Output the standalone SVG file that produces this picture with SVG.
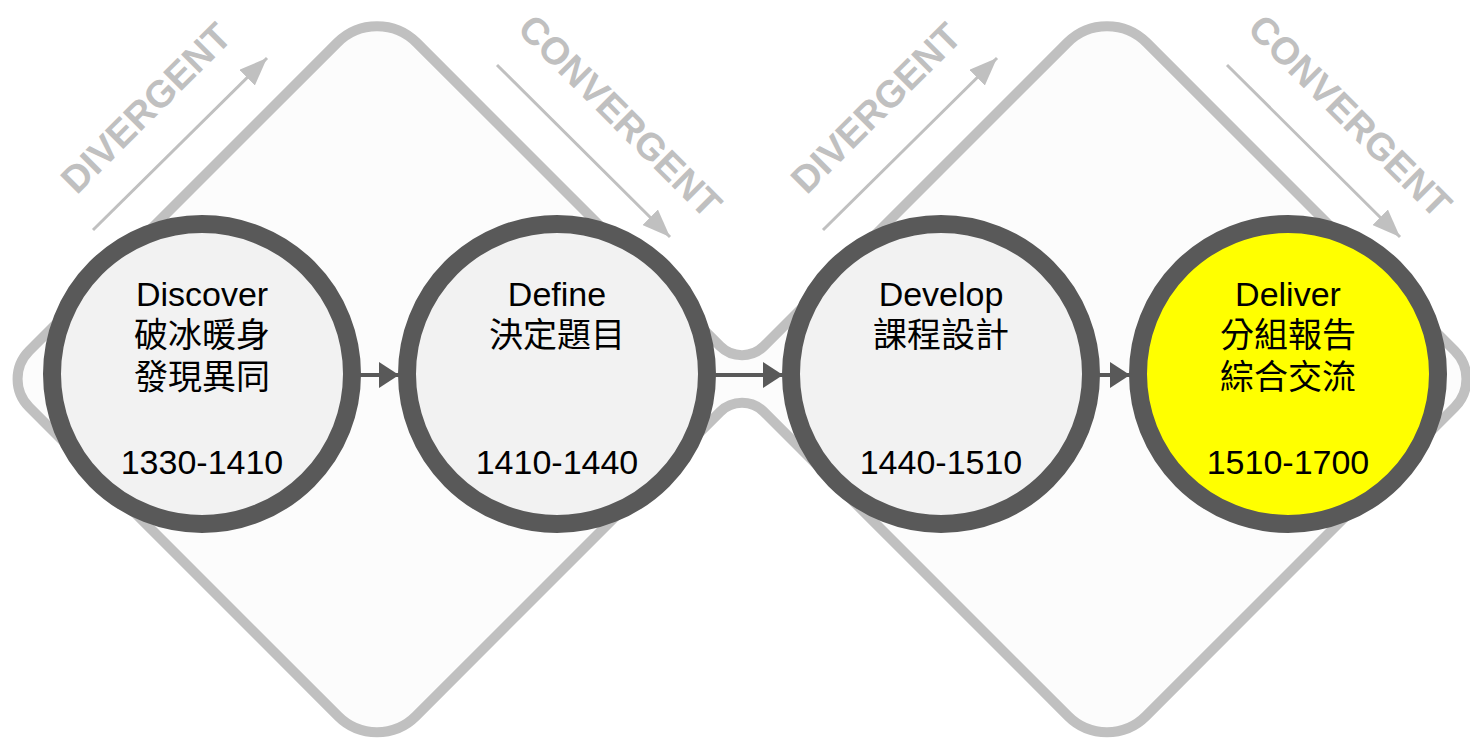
<svg xmlns="http://www.w3.org/2000/svg" width="1470" height="738" viewBox="0 0 1470 738">
<defs>
<style>
.frame{fill:#fcfcfc;stroke:#c0c0c0;stroke-width:10;stroke-linejoin:round}
.lbl{font-family:"Liberation Sans",Arial,sans-serif;font-weight:bold;font-size:38px;fill:#c0c0c0;text-anchor:middle}
.garrow{stroke:#c0c0c0;stroke-width:3;fill:none}
.node{fill:#f2f2f2;stroke:#595959;stroke-width:18}
.hl{fill:#ffff00}
.t{font-family:"Liberation Sans",Arial,"Noto Sans CJK TC",sans-serif;font-size:34px;fill:#000;text-anchor:middle}
.conn{stroke:#595959;stroke-width:4;fill:none}
</style>
<marker id="gh" markerUnits="userSpaceOnUse" markerWidth="30" markerHeight="22" refX="28" refY="11" orient="auto">
<path d="M0,0 L28,11 L0,22 Z" fill="#c0c0c0"/>
</marker>
<marker id="dh" markerUnits="userSpaceOnUse" markerWidth="22" markerHeight="26" refX="20" refY="13" orient="auto">
<path d="M0,0 L20,13 L0,26 Z" fill="#595959"/>
</marker>
</defs>
<rect width="1470" height="738" fill="#ffffff"/>
<g id="frame">
<path class="frame" d="M29.3,350.7 L337.4,42.6 A56,56 0 0 1 416.6,42.6 L720.1,346.1 A31,31 0 0 0 763.9,346.1 L1067.4,42.6 A56,56 0 0 1 1146.6,42.6 L1454.7,350.7 A40,40 0 0 1 1454.7,407.3 L1145.9,716.1 A55,55 0 0 1 1068.1,716.1 L763.9,411.9 A31,31 0 0 0 720.1,411.9 L415.9,716.1 A55,55 0 0 1 338.1,716.1 L29.3,407.3 A40,40 0 0 1 29.3,350.7 Z"/>
</g>
<g id="phase-labels">
<text class="lbl" transform="translate(146,108) rotate(-45)" y="13">DIVERGENT</text>
<line class="garrow" x1="93" y1="230" x2="267" y2="58" marker-end="url(#gh)"/>
<text class="lbl" transform="translate(620,116) rotate(45)" y="13">CONVERGENT</text>
<line class="garrow" x1="497" y1="65" x2="670" y2="237" marker-end="url(#gh)"/>
<text class="lbl" transform="translate(876,108) rotate(-45)" y="13">DIVERGENT</text>
<line class="garrow" x1="823" y1="230" x2="997" y2="58" marker-end="url(#gh)"/>
<text class="lbl" transform="translate(1350,116) rotate(45)" y="13">CONVERGENT</text>
<line class="garrow" x1="1227" y1="65" x2="1400" y2="237" marker-end="url(#gh)"/>
</g>
<g id="node-discover">
<circle class="node" cx="202" cy="374" r="150"/>
<text class="t" x="202" y="306">Discover</text>
<text class="t" x="202" y="347">破冰暖身</text>
<text class="t" x="202" y="389">發現異同</text>
<text class="t" x="202" y="474">1330-1410</text>
</g>
<g id="node-define">
<circle class="node" cx="557" cy="374" r="150"/>
<text class="t" x="557" y="306">Define</text>
<text class="t" x="557" y="347">決定題目</text>
<text class="t" x="557" y="474">1410-1440</text>
</g>
<g id="node-develop">
<circle class="node" cx="941" cy="374" r="150"/>
<text class="t" x="941" y="306">Develop</text>
<text class="t" x="941" y="347">課程設計</text>
<text class="t" x="941" y="474">1440-1510</text>
</g>
<g id="node-deliver">
<circle class="node hl" cx="1288" cy="374" r="150"/>
<text class="t" x="1288" y="306">Deliver</text>
<text class="t" x="1288" y="347">分組報告</text>
<text class="t" x="1288" y="389">綜合交流</text>
<text class="t" x="1288" y="474">1510-1700</text>
</g>
<g id="connectors">
<line class="conn" x1="360" y1="375" x2="399" y2="375" marker-end="url(#dh)"/>
<line class="conn" x1="715" y1="375" x2="783" y2="375" marker-end="url(#dh)"/>
<line class="conn" x1="1099" y1="375" x2="1130" y2="375" marker-end="url(#dh)"/>
</g>
</svg>
